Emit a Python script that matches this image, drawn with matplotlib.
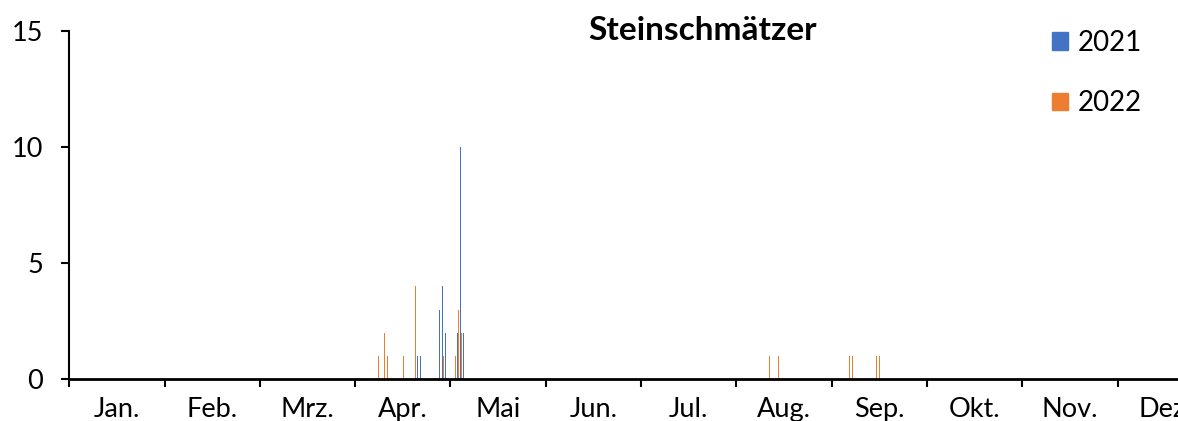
import matplotlib
matplotlib.use('Agg')
import matplotlib.pyplot as plt
from matplotlib.patches import Patch

# sightings per day (dd.mm), two seasons
days_2021 = ["21.04", "22.04", "28.04", "29.04", "30.04", "03.05", "04.05", "05.05"]
counts_2021 = [1, 1, 3, 4, 2, 2, 10, 2]
days_2022 = ["08.04", "10.04", "11.04", "16.04", "20.04", "29.04", "02.05", "03.05",
             "04.05", "11.08", "14.08", "06.09", "07.09", "15.09", "16.09"]
counts_2022 = [1, 2, 1, 1, 4, 1, 1, 3, 2, 1, 1, 1, 1, 1, 1]
months = ["Jan.", "Feb.", "Mrz.", "Apr.", "Mai", "Jun.", "Jul.", "Aug.", "Sep.", "Okt.", "Nov.", "Dez."]

blue = '#4472C4'
orange = '#ED7D31'
font = 'Lato'
plt.rcParams['font.family'] = [font, 'DejaVu Sans']

# table layout in the source: 31 day slots per month
def slot(d):
    day, mon = d.split('.')
    return (int(mon) - 1) * 31 + int(day) - 1

x21 = [slot(d) + 1 / 3 for d in days_2021]
x22 = [slot(d) + 2 / 3 for d in days_2022]

fig = plt.figure(figsize=(11.78, 4.21), dpi=100)
ax = fig.add_axes([69.3 / 1178, 41.7 / 421, 1143.5 / 1178, 348.3 / 421])

ax.bar(x21, counts_2021, width=1 / 3, color=blue, linewidth=0)
ax.bar(x22, counts_2022, width=1 / 3, color=orange, linewidth=0)

ax.set_xlim(0, 12 * 31)
ax.set_ylim(0, 15)
ax.set_yticks([0, 5, 10, 15])
ax.set_xticks([31 * i for i in range(13)])
ax.set_xticklabels([])
ax.set_xticks([31 * i + 15.5 for i in range(12)], minor=True)
ax.set_xticklabels(months, minor=True)

for s in ['top', 'right']:
    ax.spines[s].set_visible(False)
ax.spines['left'].set_linewidth(1.5)
ax.spines['bottom'].set_linewidth(2)
ax.tick_params(axis='y', length=6, width=1.5, pad=13, labelsize=19.5)
ax.tick_params(axis='x', which='major', length=6, width=1.5)
ax.tick_params(axis='x', which='minor', length=0, pad=13, labelsize=19.5)

fig.text(702 / 1178, 1 - 40 / 421, 'Steinschmätzer', ha='center', va='baseline',
         fontsize=24, fontweight='bold')

handles = [Patch(color=blue, label='2021'), Patch(color=orange, label='2022')]
fig.legend(handles=handles, loc='upper left', bbox_to_anchor=(1046 / 1178, 1 - 24 / 421),
           frameon=False, fontsize=20, handlelength=0.6, handleheight=0.6,
           handletextpad=0.35, labelspacing=1.25, borderaxespad=0, borderpad=0.2)

fig.savefig('out.png', dpi=100)
